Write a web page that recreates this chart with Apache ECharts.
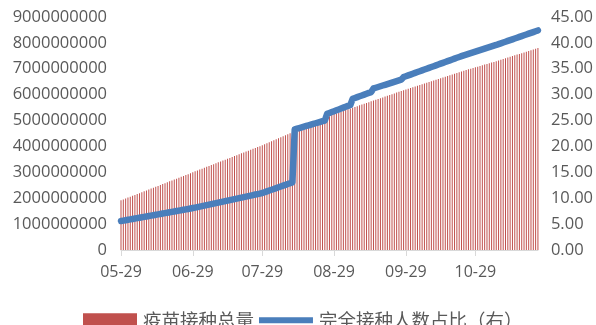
<!DOCTYPE html>
<html>
<head>
<meta charset="utf-8">
<script src="https://cdn.jsdelivr.net/npm/echarts@6/dist/echarts.min.js"></script>
<style>
  html, body { margin: 0; padding: 0; background: #ffffff; }
  #chart { width: 596px; height: 325px; }
</style>
</head>
<body>
<div id="chart"></div>
<script>
// Daily dates, 2021-05-29 .. 2021-11-25, built from month spans
const monthSpans = [
  ['05', 29, 31], ['06', 1, 30], ['07', 1, 31], ['08', 1, 31],
  ['09', 1, 30], ['10', 1, 31], ['11', 1, 25]
];
const dates = [];
monthSpans.forEach(([m, from, to]) => {
  for (let d = from; d <= to; d++) dates.push(m + '-' + String(d).padStart(2, '0'));
});

// Cumulative vaccine doses administered (疫苗接种总量)
const totalDoses = [
  1.920e9, 1.953e9, 1.990e9, 2.024e9, 2.058e9, 2.091e9, 2.128e9, 2.163e9, 2.196e9, 2.232e9,
  2.268e9, 2.301e9, 2.335e9, 2.371e9, 2.406e9, 2.440e9, 2.474e9, 2.511e9, 2.547e9, 2.580e9,
  2.614e9, 2.651e9, 2.686e9, 2.720e9, 2.754e9, 2.790e9, 2.826e9, 2.860e9, 2.893e9, 2.930e9,
  2.968e9, 3.004e9, 3.038e9, 3.073e9, 3.107e9, 3.142e9, 3.178e9, 3.212e9, 3.245e9, 3.281e9,
  3.316e9, 3.351e9, 3.385e9, 3.419e9, 3.455e9, 3.490e9, 3.524e9, 3.558e9, 3.594e9, 3.630e9,
  3.663e9, 3.697e9, 3.733e9, 3.768e9, 3.803e9, 3.836e9, 3.872e9, 3.908e9, 3.943e9, 3.977e9,
  4.012e9, 4.048e9, 4.086e9, 4.125e9, 4.163e9, 4.203e9, 4.241e9, 4.280e9, 4.318e9, 4.358e9,
  4.396e9, 4.435e9, 4.474e9, 4.512e9, 4.551e9, 4.590e9, 4.628e9, 4.667e9, 4.707e9, 4.745e9,
  4.784e9, 4.822e9, 4.862e9, 4.900e9, 4.939e9, 4.978e9, 5.016e9, 5.055e9, 5.094e9, 5.133e9,
  5.171e9, 5.210e9, 5.249e9, 5.280e9, 5.311e9, 5.342e9, 5.372e9, 5.404e9, 5.434e9, 5.465e9,
  5.496e9, 5.527e9, 5.557e9, 5.588e9, 5.619e9, 5.650e9, 5.680e9, 5.711e9, 5.742e9, 5.772e9,
  5.803e9, 5.834e9, 5.864e9, 5.895e9, 5.926e9, 5.957e9, 5.987e9, 6.018e9, 6.049e9, 6.079e9,
  6.110e9, 6.141e9, 6.171e9, 6.202e9, 6.231e9, 6.260e9, 6.289e9, 6.318e9, 6.347e9, 6.376e9,
  6.405e9, 6.434e9, 6.463e9, 6.492e9, 6.521e9, 6.550e9, 6.579e9, 6.608e9, 6.637e9, 6.666e9,
  6.695e9, 6.724e9, 6.753e9, 6.782e9, 6.811e9, 6.840e9, 6.869e9, 6.898e9, 6.927e9, 6.953e9,
  6.979e9, 7.005e9, 7.031e9, 7.057e9, 7.083e9, 7.109e9, 7.135e9, 7.161e9, 7.187e9, 7.213e9,
  7.239e9, 7.265e9, 7.293e9, 7.321e9, 7.349e9, 7.378e9, 7.406e9, 7.434e9, 7.462e9, 7.490e9,
  7.519e9, 7.547e9, 7.575e9, 7.603e9, 7.631e9, 7.660e9, 7.688e9, 7.716e9, 7.744e9, 7.772e9,
  7.800e9
];

// Share of people fully vaccinated, % (完全接种人数占比, right axis)
const fullyVaccinatedPct = [
  5.60, 5.68, 5.76, 5.84, 5.92, 6.00, 6.08, 6.16, 6.24, 6.32,
  6.40, 6.48, 6.56, 6.64, 6.72, 6.80, 6.88, 6.96, 7.04, 7.12,
  7.20, 7.28, 7.36, 7.44, 7.52, 7.60, 7.68, 7.76, 7.85, 7.93,
  8.01, 8.10, 8.19, 8.29, 8.39, 8.48, 8.58, 8.68, 8.77, 8.87,
  8.97, 9.06, 9.16, 9.26, 9.35, 9.45, 9.55, 9.64, 9.74, 9.84,
  9.93, 10.03, 10.13, 10.22, 10.32, 10.42, 10.51, 10.61, 10.71, 10.80,
  10.90, 11.00, 11.16, 11.32, 11.48, 11.63, 11.79, 11.95, 12.11, 12.27,
  12.42, 12.58, 12.74, 12.90, 13.05, 23.30, 23.43, 23.56, 23.69, 23.82,
  23.95, 24.08, 24.22, 24.35, 24.48, 24.61, 24.74, 24.87, 25.00, 26.30,
  26.47, 26.64, 26.81, 26.98, 27.15, 27.32, 27.49, 27.66, 27.83, 28.00,
  29.20, 29.36, 29.53, 29.69, 29.85, 30.01, 30.18, 30.34, 30.50, 31.20,
  31.34, 31.48, 31.63, 31.77, 31.91, 32.05, 32.19, 32.34, 32.48, 32.62,
  32.76, 32.90, 33.40, 33.56, 33.72, 33.88, 34.05, 34.21, 34.37, 34.53,
  34.69, 34.85, 35.02, 35.18, 35.34, 35.50, 35.66, 35.82, 35.99, 36.15,
  36.31, 36.47, 36.63, 36.79, 36.96, 37.12, 37.28, 37.44, 37.60, 37.74,
  37.89, 38.03, 38.17, 38.31, 38.46, 38.60, 38.74, 38.89, 39.03, 39.17,
  39.31, 39.46, 39.60, 39.76, 39.91, 40.07, 40.22, 40.38, 40.53, 40.69,
  40.84, 41.00, 41.16, 41.31, 41.47, 41.62, 41.78, 41.93, 42.09, 42.24,
  42.40
];

const leftTicks = { min: 0, max: 9000000000, interval: 1000000000 };
const rightTicks = { min: 0, max: 45, interval: 5 };
const seriesNames = ['疫苗接种总量', '完全接种人数占比（右）'];

const labelColor = '#595959';
const axisFont = 'Open Sans, sans-serif';
const barColor = '#c0504d';
const lineColor = '#4a7ebb';
const showMonthTick = (i, v) => v.slice(3) === '29';

// Legend glyph for the line: a thick bar centred in the icon box
// (two tiny corner specks keep the box height so the bar is not stretched)
const lineLegendIcon =
  'path://M0,0h0.01v0.01h-0.01z M0,4H54V10H0Z M0,14h0.01v0.01h-0.01z';

const chart = echarts.init(document.getElementById('chart'), null, { renderer: 'canvas' });
chart.setOption({
  animation: false,
  backgroundColor: '#ffffff',
  grid: { left: 121, right: 56, top: 17, bottom: 75, containLabel: false },
  legend: {
    top: 306,
    left: 78,
    itemWidth: 54,
    itemHeight: 14,
    itemGap: 5,
    textStyle: {
      fontSize: 18.5, color: labelColor, fontFamily: 'Noto Sans CJK SC',
      padding: [0, 0, 0, 1]
    },
    data: [
      { name: seriesNames[0], icon: 'rect' },
      { name: seriesNames[1], icon: lineLegendIcon, itemStyle: { color: lineColor } }
    ]
  },
  xAxis: {
    type: 'category',
    data: dates,
    boundaryGap: false,
    axisLine: { lineStyle: { color: '#d9d9d9', width: 1 } },
    axisTick: { show: true, interval: showMonthTick, length: 6, lineStyle: { color: '#d9d9d9' } },
    axisLabel: {
      interval: showMonthTick,
      color: labelColor,
      fontSize: 16,
      fontFamily: axisFont,
      margin: 14
    },
    splitLine: { show: false }
  },
  yAxis: [
    {
      type: 'value',
      min: leftTicks.min, max: leftTicks.max, interval: leftTicks.interval,
      axisLine: { show: false },
      axisTick: { show: false },
      splitLine: { show: false },
      axisLabel: {
        color: labelColor, fontSize: 16.5, fontFamily: axisFont, margin: 14,
        formatter: v => String(v)
      }
    },
    {
      type: 'value',
      position: 'right',
      min: rightTicks.min, max: rightTicks.max, interval: rightTicks.interval,
      axisLine: { show: false },
      axisTick: { show: false },
      splitLine: { show: false },
      axisLabel: {
        color: labelColor, fontSize: 16.5, fontFamily: axisFont, margin: 13,
        formatter: v => v.toFixed(2)
      }
    }
  ],
  series: [
    {
      name: seriesNames[0],
      type: 'bar',
      yAxisIndex: 0,
      data: totalDoses,
      barWidth: 0.9,
      itemStyle: { color: barColor },
      z: 1
    },
    {
      name: seriesNames[1],
      type: 'line',
      yAxisIndex: 1,
      data: fullyVaccinatedPct,
      symbol: 'none',
      lineStyle: { color: lineColor, width: 6.5, cap: 'round', join: 'round' },
      itemStyle: { color: lineColor },
      z: 3
    }
  ]
});
</script>
</body>
</html>
